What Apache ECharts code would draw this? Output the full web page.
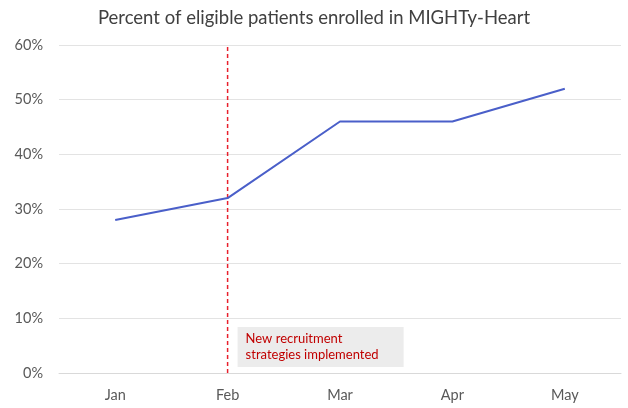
<!DOCTYPE html>
<html><head><meta charset="utf-8">
<script src="https://cdn.jsdelivr.net/npm/echarts@6/dist/echarts.min.js"></script>
<style>html,body{margin:0;padding:0;background:#fff}#c{width:628px;height:408px}</style>
</head><body><div id="c"></div>
<script>
const categories = ['Jan', 'Feb', 'Mar', 'Apr', 'May'];
const enrolled = [28, 32, 46, 46, 52];
const yTicks = [0, 10, 20, 30, 40, 50, 60];
const markerCategory = 'Feb';
const annotationText = 'New recruitment\nstrategies implemented';

const chart = echarts.init(document.getElementById('c'));
chart.setOption({
  animation: false,
  textStyle: { fontFamily: 'Lato' },
  title: {
    text: 'Percent of eligible patients enrolled in MIGHTy-Heart',
    left: 'center', top: 4,
    textStyle: { fontFamily: 'Lato', fontSize: 18.5, fontWeight: 'normal', color: '#404040' }
  },
  grid: { left: 59, right: 7, top: 45, bottom: 35 },
  xAxis: {
    type: 'category', data: categories, boundaryGap: true,
    axisLine: { show: true, lineStyle: { color: '#d9d9d9' } },
    axisTick: { show: false },
    axisLabel: { color: '#595959', fontSize: 14.5, margin: 15 }
  },
  yAxis: {
    type: 'value', min: yTicks[0], max: yTicks[yTicks.length - 1], interval: 10,
    axisLine: { show: false }, axisTick: { show: false },
    axisLabel: { color: '#595959', fontSize: 14.5, margin: 16, formatter: v => v + '%' },
    splitLine: { lineStyle: { color: '#e3e3e3' } }
  },
  series: [{
    type: 'line', data: enrolled, symbol: 'none', z: 3,
    lineStyle: { color: '#4a5fc9', width: 2 },
    markPoint: {
      silent: true, symbol: 'circle', symbolSize: 0,
      data: [{ coord: [markerCategory, 4.75] }],
      label: {
        show: true, position: 'right', distance: 10,
        formatter: annotationText,
        backgroundColor: '#ececec', padding: [4, 25, 4, 8],
        color: '#c00000', fontSize: 13, lineHeight: 16, align: 'left'
      }
    }
  }, {
    type: 'line', symbol: 'none', silent: true, z: 2,
    data: [[markerCategory, yTicks[0]], [markerCategory, yTicks[yTicks.length - 1]]],
    lineStyle: { color: '#e8202c', type: [4, 3], width: 1.5 }
  }]
});
</script></body></html>
